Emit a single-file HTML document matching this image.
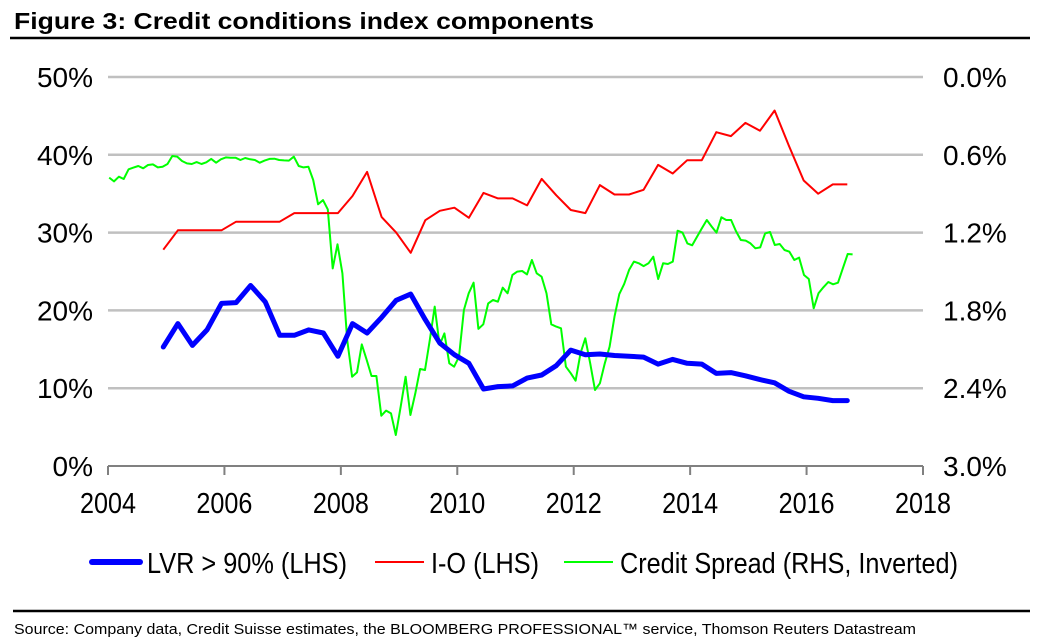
<!DOCTYPE html>
<html><head><meta charset="utf-8"><style>
body{margin:0;background:#fff;}
svg{display:block;font-family:"Liberation Sans",Arial,sans-serif;}
</style></head><body>
<svg id="chart" width="1041" height="644" xmlns="http://www.w3.org/2000/svg">
<text x="14" y="29" font-weight="bold" font-size="23" textLength="580" lengthAdjust="spacingAndGlyphs">Figure 3: Credit conditions index components</text>
<line x1="10" y1="38" x2="1030" y2="38" stroke="#000" stroke-width="2.5"/>
<line x1="13" y1="611" x2="1030" y2="611" stroke="#000" stroke-width="2.5"/>
<text x="14" y="634" font-size="15" textLength="902" lengthAdjust="spacingAndGlyphs">Source: Company data, Credit Suisse estimates, the BLOOMBERG PROFESSIONAL™ service, Thomson Reuters Datastream</text>
<g id="grid"></g><g id="axes"></g><g id="series"></g>
<g id="legend">
<line x1="92" y1="562" x2="140" y2="562" stroke="#0000ff" stroke-width="6" stroke-linecap="round"/>
<text x="147" y="573" font-size="29" textLength="200" lengthAdjust="spacingAndGlyphs">LVR &gt; 90% (LHS)</text>
<line x1="375" y1="562" x2="424" y2="562" stroke="#ff0000" stroke-width="2"/>
<text x="431" y="573" font-size="29" textLength="108" lengthAdjust="spacingAndGlyphs">I-O (LHS)</text>
<line x1="564" y1="562" x2="613" y2="562" stroke="#00ff00" stroke-width="2"/>
<text x="620" y="573" font-size="29" textLength="338" lengthAdjust="spacingAndGlyphs">Credit Spread (RHS, Inverted)</text>
</g>
</svg>
<script>
const xTicks=[2004,2006,2008,2010,2012,2014,2016,2018];
const leftTicks=[0,10,20,30,40,50];
const rightTicks=["3.0%","2.4%","1.8%","1.2%","0.6%","0.0%"];
const quarterStart=2004.95;
const lvr=[15.3,18.3,15.5,17.5,20.9,21.0,23.2,21.1,16.8,16.8,17.5,17.1,14.1,18.3,17.1,19.1,21.3,22.1,18.8,15.8,14.3,13.2,9.9,10.2,10.3,11.3,11.7,12.9,14.9,14.3,14.4,14.2,14.1,14.0,13.1,13.7,13.2,13.1,11.9,12.0,11.6,11.1,10.7,9.6,8.9,8.7,8.4,8.4];
const io=[27.8,30.3,30.3,30.3,30.3,31.4,31.4,31.4,31.4,32.5,32.5,32.5,32.5,34.7,37.8,32.0,30.0,27.4,31.6,32.8,33.2,31.9,35.1,34.4,34.4,33.5,36.9,34.8,32.9,32.5,36.1,34.9,34.9,35.5,38.7,37.6,39.3,39.3,42.9,42.4,44.1,43.1,45.7,41.1,36.7,35.0,36.2,36.2];
const spreadStart=2004.02, spreadEnd=2016.79;
const spread=[0.776,0.805,0.769,0.787,0.712,0.699,0.686,0.704,0.679,0.674,0.697,0.692,0.671,0.609,0.614,0.648,0.666,0.671,0.656,0.671,0.658,0.632,0.661,0.635,0.620,0.622,0.622,0.640,0.625,0.635,0.640,0.661,0.645,0.632,0.630,0.640,0.643,0.645,0.614,0.686,0.697,0.692,0.794,0.982,0.949,1.021,1.476,1.290,1.514,2.028,2.311,2.278,2.062,2.182,2.306,2.306,2.612,2.573,2.594,2.761,2.542,2.311,2.607,2.440,2.252,2.260,2.028,1.771,2.067,1.977,2.208,2.234,2.157,1.797,1.668,1.586,1.943,1.907,1.746,1.720,1.733,1.625,1.668,1.527,1.501,1.496,1.522,1.411,1.514,1.540,1.668,1.907,1.925,1.938,2.234,2.285,2.342,2.131,2.015,2.208,2.414,2.362,2.208,2.080,1.848,1.674,1.596,1.488,1.424,1.437,1.458,1.437,1.386,1.558,1.437,1.442,1.424,1.185,1.200,1.283,1.298,1.231,1.167,1.103,1.154,1.200,1.082,1.103,1.103,1.188,1.257,1.262,1.283,1.321,1.314,1.206,1.195,1.296,1.288,1.334,1.347,1.411,1.393,1.527,1.558,1.784,1.668,1.622,1.581,1.599,1.586,1.476,1.365,1.368];

const NS="http://www.w3.org/2000/svg";
const X0=108,X1=923,Y0=466,Y1=77;
const xs=y=>X0+(y-2004)/(2018-2004)*(X1-X0);
const yl=v=>Y0-v/50*(Y0-Y1);
const yr=v=>Y1+v/3*(Y0-Y1);
function mk(tag,attrs,parent){const e=document.createElementNS(NS,tag);for(const k in attrs)e.setAttribute(k,attrs[k]);parent.appendChild(e);return e;}
const grid=document.getElementById('grid'),axes=document.getElementById('axes'),ser=document.getElementById('series');
leftTicks.forEach((t,i)=>{
  const y=yl(t);
  if(t>0){const g=mk('line',{x1:X0,x2:X1,y1:y,y2:y,stroke:'#c0c0c0','stroke-width':2.5},grid);
    
    }
  const l=mk('text',{x:93,y:y+10,'text-anchor':'end','font-size':28},axes);l.textContent=t+'%';
  
  
  const r=mk('text',{x:943,y:y+10,'font-size':28},axes);r.textContent=rightTicks[i];
  
  
});
const ax=mk('line',{x1:X0,x2:X1,y1:Y0,y2:Y0,stroke:'#808080','stroke-width':2},axes);


xTicks.forEach(t=>{
  const x=xs(t);
  const tk=mk('line',{x1:x,x2:x,y1:Y0,y2:Y0+9,stroke:'#808080','stroke-width':2},axes);
  
  
  const l=mk('text',{x:x-28,y:513,'font-size':29,textLength:56,lengthAdjust:'spacingAndGlyphs'},axes);l.textContent=t;
  
  
});
function pts(arr,xf,yf){return arr.map((v,i)=>xf(i).toFixed(1)+','+yf(v).toFixed(1)).join(' ');}
const g1=mk('polyline',{points:pts(spread,i=>xs(spreadStart+i*(spreadEnd-spreadStart)/(spread.length-1)),yr),fill:'none',stroke:'#00ff00','stroke-width':2,'stroke-linejoin':'round'},ser);


const r1=mk('polyline',{points:pts(io,i=>xs(quarterStart+i*0.25),yl),fill:'none',stroke:'#ff0000','stroke-width':2,'stroke-linejoin':'round'},ser);


const b1=mk('polyline',{points:pts(lvr,i=>xs(quarterStart+i*0.25),yl),fill:'none',stroke:'#0000ff','stroke-width':5,'stroke-linejoin':'round','stroke-linecap':'round'},ser);


</script>
</body></html>
